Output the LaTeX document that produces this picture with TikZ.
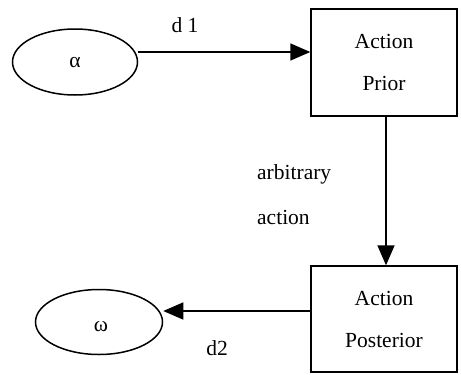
\documentclass[tikz,border=0pt]{standalone}
\usepackage{fontspec}
\setmainfont{Liberation Serif}
\usetikzlibrary{arrows.meta,shapes.geometric}
\begin{document}
\begin{tikzpicture}[x=1pt,y=-1pt,
  lbl/.style={font=\fontsize{21.5}{24}\selectfont, inner sep=0pt},
  oval/.style={draw, line width=1.5pt, ellipse, minimum width=125pt, minimum height=66pt, inner sep=0pt},
  boxnode/.style={draw, line width=1.4pt, minimum width=146pt, minimum height=107pt, inner sep=0pt, align=center, font=\fontsize{21.5}{42}\selectfont},
  conn/.style={line width=1.5pt, -{Triangle[length=20pt,width=17pt]}}]
\useasboundingbox (0,0) rectangle (461,375);
\node[oval] (alpha) at (75,62) {};
\node[lbl] at (75,63) {α};
\node[boxnode] (prior) at (384,62.5) {Action\\Prior};
\node[boxnode, minimum height=106pt] (post) at (384,319) {Action\\Posterior};
\node[oval, minimum width=127pt, minimum height=65pt] (omega) at (99,322) {};
\node[lbl] at (101,327) {ω};
\coordinate (a1) at (138,52);
\draw[conn] (a1) -- (prior.west |- a1);
\draw[conn] (prior.south -| 386,0) -- (post.north -| 386,0);
\coordinate (p1) at (311,311);
\draw[conn] (p1) -- (omega.east |- p1);
\node[lbl] (d1) at (185,25) {d 1};
\node[lbl] (d2) at (217,348) {d2};
\node[lbl, anchor=west] (arb) at (257,174) {arbitrary};
\node[lbl, anchor=west] (act) at (257,217) {action};
\end{tikzpicture}
\end{document}
